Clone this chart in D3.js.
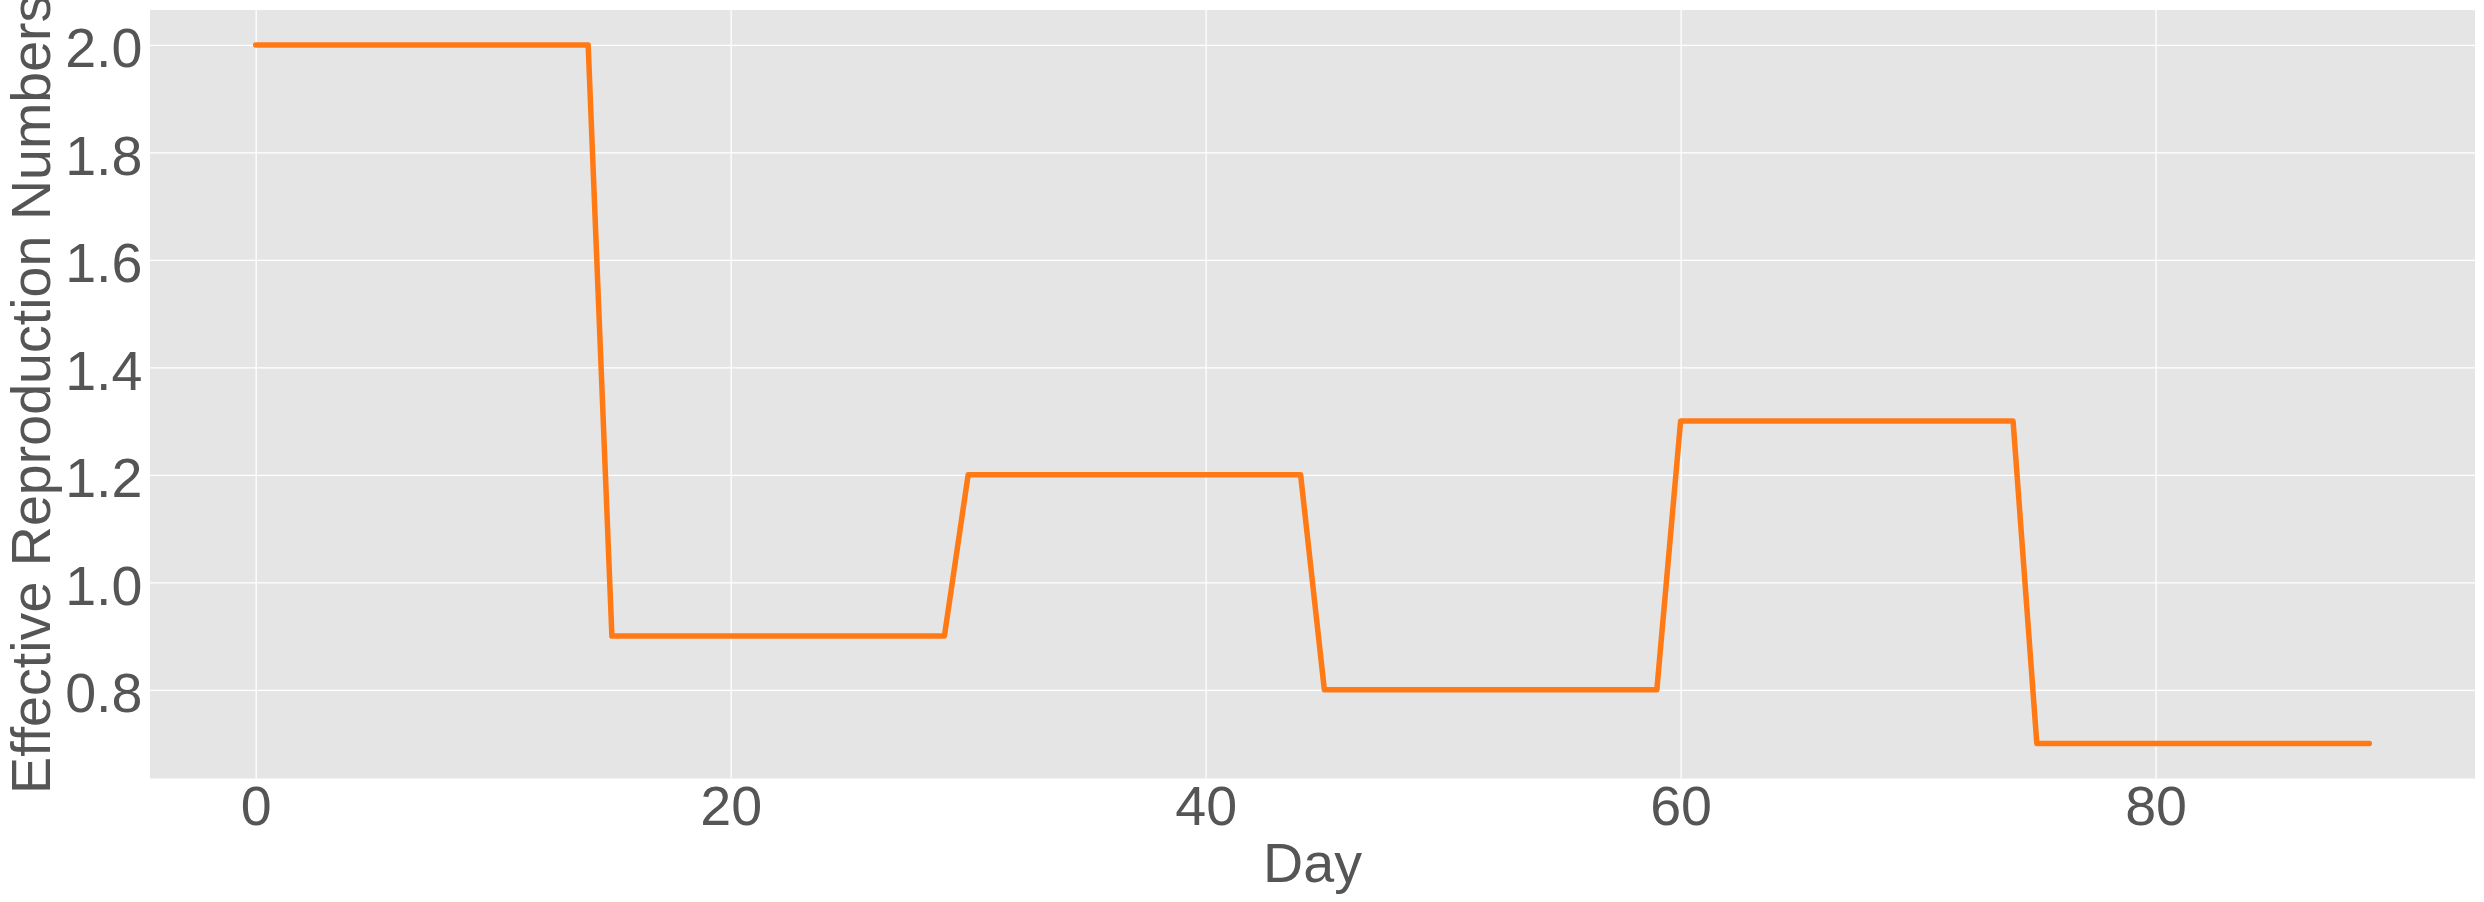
<!DOCTYPE html>
<html>
<head>
<meta charset="utf-8">
<script src="https://cdn.jsdelivr.net/npm/d3@7"></script>
<style>
  html, body { margin: 0; padding: 0; background: #ffffff; }
  svg { display: block; }
</style>
</head>
<body>
<svg id="chart" width="2484" height="902"></svg>
<script>
// ---- data ----
const days = [
  0,1,2,3,4,5,6,7,8,9,10,11,12,13,14,15,16,17,18,19,20,21,22,23,24,25,26,27,28,29,
  30,31,32,33,34,35,36,37,38,39,40,41,42,43,44,45,46,47,48,49,50,51,52,53,54,55,56,57,58,59,
  60,61,62,63,64,65,66,67,68,69,70,71,72,73,74,75,76,77,78,79,80,81,82,83,84,85,86,87,88,89
];
const rValues = [
  2.0,2.0,2.0,2.0,2.0,2.0,2.0,2.0,2.0,2.0,2.0,2.0,2.0,2.0,2.0,
  0.9,0.9,0.9,0.9,0.9,0.9,0.9,0.9,0.9,0.9,0.9,0.9,0.9,0.9,0.9,
  1.2,1.2,1.2,1.2,1.2,1.2,1.2,1.2,1.2,1.2,1.2,1.2,1.2,1.2,1.2,
  0.8,0.8,0.8,0.8,0.8,0.8,0.8,0.8,0.8,0.8,0.8,0.8,0.8,0.8,0.8,
  1.3,1.3,1.3,1.3,1.3,1.3,1.3,1.3,1.3,1.3,1.3,1.3,1.3,1.3,1.3,
  0.7,0.7,0.7,0.7,0.7,0.7,0.7,0.7,0.7,0.7,0.7,0.7,0.7,0.7,0.7
];
const xTicks = [0, 20, 40, 60, 80];
const yTicks = [0.8, 1.0, 1.2, 1.4, 1.6, 1.8, 2.0];
const xLabel = "Day";
const yLabel = "Effective Reproduction Numbers";

// ---- layout ----
const W = 2484, H = 902;
const plot = { left: 150, right: 2475, top: 10, bottom: 778.5 };
const fontSize = 55.6;
const textColor = "#555555";
const fontFamily = "Arial, 'Liberation Sans', sans-serif";

const svg = d3.select("#chart");

const xMin = d3.min(days), xMax = d3.max(days);
const xPad = (xMax - xMin) * 0.05;
const yMin = d3.min(rValues), yMax = d3.max(rValues);
const yPad = (yMax - yMin) * 0.05;

const x = d3.scaleLinear().domain([xMin - xPad, xMax + xPad]).range([plot.left, plot.right]);
const y = d3.scaleLinear().domain([yMin - yPad, yMax + yPad]).range([plot.bottom, plot.top]);

// background
svg.append("rect")
  .attr("x", plot.left).attr("y", plot.top)
  .attr("width", plot.right - plot.left).attr("height", plot.bottom - plot.top)
  .attr("fill", "#e5e5e5");

// grid via axes
const gx = svg.append("g")
  .attr("transform", `translate(0,${plot.bottom})`)
  .call(d3.axisBottom(x).tickValues(xTicks).tickSize(-(plot.bottom - plot.top)).tickFormat(d3.format("d")));
const gy = svg.append("g")
  .attr("transform", `translate(${plot.left},0)`)
  .call(d3.axisLeft(y).tickValues(yTicks).tickSize(-(plot.right - plot.left)).tickFormat(d3.format(".1f")));

[gx, gy].forEach(g => {
  g.select(".domain").remove();
  g.selectAll(".tick line").attr("stroke", "#ffffff").attr("stroke-width", 1.3);
  g.selectAll(".tick text")
    .attr("fill", textColor)
    .style("font-family", fontFamily)
    .style("font-size", fontSize + "px");
});
gx.selectAll(".tick text").attr("dy", null).attr("y", 46.5);
gy.selectAll(".tick text").attr("x", -7.5).attr("dy", "0.39em");

// line
const line = d3.line().x((d, i) => x(days[i])).y(d => y(d));
svg.append("path")
  .datum(rValues)
  .attr("d", line)
  .attr("fill", "none")
  .attr("stroke", "#ff7a14")
  .attr("stroke-width", 5.5)
  .attr("stroke-linejoin", "round")
  .attr("stroke-linecap", "round");

// axis labels
svg.append("text")
  .attr("x", (plot.left + plot.right) / 2)
  .attr("y", 881.5)
  .attr("text-anchor", "middle")
  .attr("fill", textColor)
  .style("font-family", fontFamily)
  .style("font-size", fontSize + "px")
  .text(xLabel);

svg.append("text")
  .attr("transform", `translate(49.5,${(plot.top + plot.bottom) / 2}) rotate(-90)`)
  .attr("text-anchor", "middle")
  .attr("fill", textColor)
  .style("font-family", fontFamily)
  .style("font-size", fontSize + "px")
  .text(yLabel);
</script>
</body>
</html>
